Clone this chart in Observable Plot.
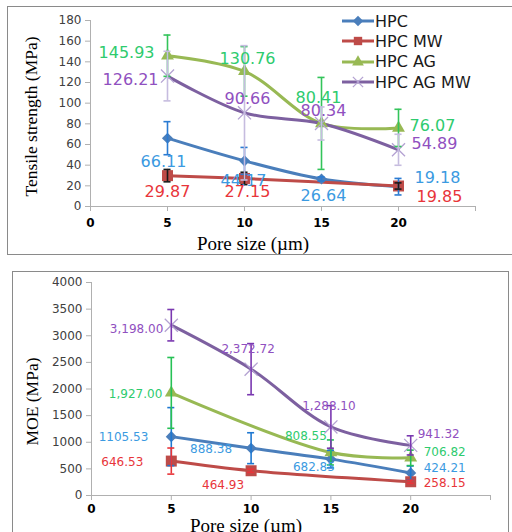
<!DOCTYPE html>
<html><head><meta charset="utf-8">
<script src="https://cdn.jsdelivr.net/npm/d3@7"></script>
<script src="https://cdn.jsdelivr.net/npm/@observablehq/plot@0.6"></script>
<style>
body{margin:0;background:#fff;}
#wrap{position:relative;width:512px;height:532px;overflow:hidden;background:#fff;}
.panel{position:absolute;border:1px solid #8a8a8a;box-sizing:border-box;}
.chart{position:absolute;left:0;}
.legend{position:absolute;left:0;top:0;font-family:"DejaVu Sans";font-size:16px;color:#1a1a1a;}
.legend .row{position:absolute;height:20px;display:flex;align-items:center;white-space:nowrap;}
g[aria-label="x-axis tick label"]{font-weight:bold;}
</style></head><body>
<div id="wrap">
<div class="panel" style="left:7px;top:6px;width:520px;height:249px"></div>
<div class="panel" style="left:12px;top:271px;width:497px;height:290px"></div>
<div id="top" class="chart" style="top:0"></div>
<div id="bot" class="chart" style="top:260px"></div>
<div id="legend" class="legend"></div>
</div>
<script>
// ---------- data ----------
const poreSizes = [5, 10, 15, 20];
const seriesNames = ["HPC", "HPC MW", "HPC AG", "HPC AG MW"];

// Tensile strength (MPa)
const tensileHPC     = [66.11, 44.17, 26.64, 19.18];
const tensileHPCMW   = [29.87, 27.15, null, 19.85];
const tensileHPCAG   = [145.93, 130.76, 80.41, 76.07];
const tensileHPCAGMW = [126.21, 90.66, 80.34, 54.89];
const tensileErrHPC     = [16, 13, 2, 8];
const tensileErrHPCMW   = [6, 6, null, 3];
const tensileErrHPCAG   = [20, 24, 44.5, 18];
const tensileErrHPCAGMW = [24, 65, 16, 15];

// MOE (MPa)
const moeHPC     = [1105.53, 888.38, 682.85, 424.21];
const moeHPCMW   = [646.53, 464.93, null, 258.15];
const moeHPCAG   = [1927.00, null, 808.55, 706.82];
const moeHPCAGMW = [3198.00, 2372.72, 1288.10, 941.32];
const moeErrHPC     = [545, 290, 165, 130];
const moeErrHPCMW   = [245, 30, null, 30];
const moeErrHPCAG   = [665, null, 235, 145];
const moeErrHPCAGMW = [295, 480, 400, 180];

const xTicks = [0, 5, 10, 15, 20, 25];
const tensileTicks = [0, 20, 40, 60, 80, 100, 120, 140, 160, 180];
const moeTicks = [0, 500, 1000, 1500, 2000, 2500, 3000, 3500, 4000];
const tensileLabelFormats = [".2f", ".2f", ".2f", ".2f"];
const moeLabelFormats = [".2f", ".2f", ",.2f", ",.2f"];

// ---------- styling / label placement ----------
const lineColors   = ["#4a7ebb", "#be4b48", "#98b954", "#7d60a0"];
const markerColors = ["#4a7ebb", "#be4b48", "#98b954", "#b4a2d2"];
const labelColors  = ["#3b9ae1", "#e8353a", "#2ecb6e", "#9050c0"];
const symbols = ["diamond2", "square", "triangle", "times"];
const markerR = [5, 6.2, 4.8, 6];
const tensileErrColors = ["#2a7bd2", "#1a1a1a", "#33c45a", "#c6bcdf"];
const moeErrColors = ["#1f78d1", "#e8353a", "#26c155", "#7a38b0"];

// [textAnchor, dx, dy] per series per point
const tensileLabelPos = [
  [["middle", -4, 24], ["middle", -1, 20], ["middle", 2, 17], ["start", 16, -9]],
  [["middle", 0, 16], ["middle", 3, 13], null, ["start", 18, 11]],
  [["end", -13, -3], ["middle", 3, -13], ["middle", -3, -26], ["start", 11, -2]],
  [["end", -9, 4], ["middle", 3, -14], ["middle", 2, -13], ["start", 13, -6]]
];
const moeLabelPos = [
  [["end", -23, 1], ["end", -19, 1], ["middle", -17, 8], ["start", 13, -5]],
  [["end", -28, 1], ["middle", -28, 14], null, ["start", 13, 1]],
  [["end", -9, 1], null, ["end", -4, -16], ["start", 13, -6]],
  [["end", -8, 4], ["middle", -3, -20], ["middle", -2, -21], ["start", 7, -11]]
];

function rowsFor(values, errs, labelPos, formats) {
  const rows = [];
  values.forEach((vals, s) => {
    vals.forEach((v, i) => {
      if (v == null) return;
      rows.push({series: seriesNames[s], s, x: poreSizes[i], y: v, err: errs[s][i] ?? 0,
        label: d3.format(formats[s])(v), pos: labelPos[s][i]});
    });
  });
  return rows;
}

function chart({rows, width, height, margins, yDomain, yTicks, xTickPadding, errColors, capHalf,
                labelSize, yTitle, xTitle, yTitleDx, yTitleDy, xTitleDx, xTitleDy}) {
  const marks = [
    Plot.ruleY([0], {stroke: "#b0b0b0"}),
    Plot.ruleX([0], {stroke: "#b0b0b0"}),
    Plot.axisY({ticks: yTicks, tickSize: 5, tickPadding: 4, fontSize: 12, stroke: "#b0b0b0", fill: "#404040",
      tickFormat: d => String(d), label: null}),
    Plot.axisX({ticks: xTicks, tickSize: 5, tickPadding: xTickPadding, fontSize: 12, fontWeight: "bold",
      tickFormat: d => d === 25 ? "" : String(d), stroke: "#b0b0b0", fill: "#000", label: null})
  ];
  for (let s = 0; s < 4; s++) {
    const r = rows.filter(d => d.s === s);
    marks.push(Plot.line(r, {x: "x", y: "y", stroke: lineColors[s], strokeWidth: 3, curve: "catmull-rom"}));
  }
  for (let s = 0; s < 4; s++) {
    const r = rows.filter(d => d.s === s);
    const sym = symbols[s];
    if (sym === "times") {
      marks.push(Plot.dot(r, {x: "x", y: "y", symbol: sym, r: markerR[s], stroke: markerColors[s], strokeWidth: 1.3, fill: "none"}));
    } else {
      marks.push(Plot.dot(r, {x: "x", y: "y", symbol: sym, r: markerR[s], fill: markerColors[s], stroke: "none"}));
    }
  }
  for (let s = 0; s < 4; s++) {
    const r = rows.filter(d => d.s === s && d.err > 0);
    marks.push(Plot.ruleX(r, {x: "x", y1: d => d.y - d.err, y2: d => d.y + d.err, stroke: errColors[s], strokeWidth: 1.6}));
    marks.push(Plot.ruleY(r, {y: d => d.y - d.err, x1: d => d.x - capHalf, x2: d => d.x + capHalf, stroke: errColors[s], strokeWidth: 1.6}));
    marks.push(Plot.ruleY(r, {y: d => d.y + d.err, x1: d => d.x - capHalf, x2: d => d.x + capHalf, stroke: errColors[s], strokeWidth: 1.6}));
  }
  for (const d of rows) {
    if (!d.pos) continue;
    const [anchor, dx, dy] = d.pos;
    marks.push(Plot.text([d], {x: "x", y: "y", text: "label", textAnchor: anchor, lineAnchor: "middle",
      dx, dy, fill: labelColors[d.s], fontSize: labelSize, fontFamily: "DejaVu Sans"}));
  }
  marks.push(Plot.text([yTitle], {frameAnchor: "left", rotate: -90, textAnchor: "middle", lineAnchor: "middle",
    dx: yTitleDx, dy: yTitleDy, fontSize: 17.5, fontFamily: "Liberation Serif", fill: "#000"}));
  marks.push(Plot.text([xTitle], {frameAnchor: "bottom", textAnchor: "middle", lineAnchor: "middle",
    dx: xTitleDx, dy: xTitleDy, fontSize: 19, fontFamily: "Liberation Serif", fill: "#000"}));
  return Plot.plot({
    width, height,
    marginLeft: margins[0], marginRight: margins[1], marginTop: margins[2], marginBottom: margins[3],
    x: {domain: [0, 25]},
    y: {domain: yDomain},
    style: {fontFamily: "DejaVu Sans", background: "transparent", overflow: "visible"},
    marks
  });
}

const tensileRows = rowsFor([tensileHPC, tensileHPCMW, tensileHPCAG, tensileHPCAGMW],
  [tensileErrHPC, tensileErrHPCMW, tensileErrHPCAG, tensileErrHPCAGMW], tensileLabelPos, tensileLabelFormats);
const moeRows = rowsFor([moeHPC, moeHPCMW, moeHPCAG, moeHPCAGMW],
  [moeErrHPC, moeErrHPCMW, moeErrHPCAG, moeErrHPCAGMW], moeLabelPos, moeLabelFormats);

document.getElementById("top").append(chart({
  rows: tensileRows, width: 512, height: 256, margins: [90, 37, 20, 50],
  yDomain: [0, 180], yTicks: tensileTicks, xTickPadding: 6.5, errColors: tensileErrColors, capHalf: 0.23,
  labelSize: 16, yTitle: "Tensile strength (MPa)", xTitle: "Pore size (\u00b5m)",
  yTitleDx: -59, yTitleDy: 3, xTitleDx: -30, xTitleDy: 37
}));
document.getElementById("bot").append(chart({
  rows: moeRows, width: 512, height: 272, margins: [91, 22, 22, 37],
  yDomain: [0, 4000], yTicks: moeTicks, xTickPadding: 4, errColors: moeErrColors, capHalf: 0.22,
  labelSize: 12, yTitle: "MOE (MPa)", xTitle: "Pore size (\u00b5m)",
  yTitleDx: -59, yTitleDy: 12.5, xTitleDx: -45, xTitleDy: 30.5
}));

// legend (top chart)
const legend = document.getElementById("legend");
const legendSizes = [70, 70, 60, 70];
seriesNames.forEach((name, s) => {
  const row = document.createElement("div");
  row.className = "row";
  row.style.left = "342px";
  row.style.top = (11 + s * 20.4) + "px";
  const sym = {diamond2: d3.symbolDiamond2, square: d3.symbolSquare, triangle: d3.symbolTriangle, times: d3.symbolTimes}[symbols[s]];
  const path = d3.symbol(sym, legendSizes[s])();
  const isStroke = symbols[s] === "times";
  row.innerHTML = `<svg width="32" height="20" style="margin-right:1px"><line x1="0" x2="32" y1="10" y2="10" stroke="${lineColors[s]}" stroke-width="3"/>` +
    `<path transform="translate(16,10)" d="${path}" fill="${isStroke ? "none" : markerColors[s]}" stroke="${isStroke ? markerColors[s] : "none"}" stroke-width="1.3"/></svg>` +
    `<span>${name}</span>`;
  legend.append(row);
});
</script>
</body></html>
